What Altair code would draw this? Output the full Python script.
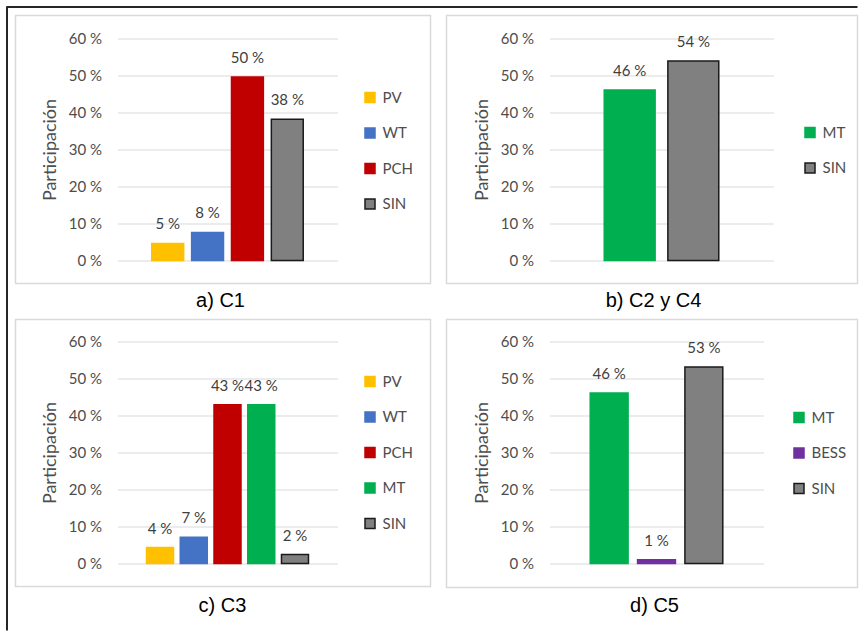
import altair as alt
import pandas as pd

# ---------------- data ----------------
COLORS = {"PV": "#FFC000", "WT": "#4472C4", "PCH": "#C00000",
          "MT": "#00B050", "BESS": "#7030A0", "SIN": "#808080"}
STROKES = {"PV": "#FFC000", "WT": "#4472C4", "PCH": "#C00000",
           "MT": "#00B050", "BESS": "#7030A0", "SIN": "#1a1a1a"}

series_a = ["PV", "WT", "PCH", "SIN"]
values_a = [4.6, 7.6, 49.6, 38.2]

series_b = ["MT", "SIN"]
values_b = [46.1, 53.9]

series_c = ["PV", "WT", "PCH", "MT", "SIN"]
values_c = [4.3, 7.1, 42.9, 42.9, 2.4]

series_d = ["MT", "BESS", "SIN"]
values_d = [46.1, 1.0, 53.1]

titles = ["a) C1", "b) C2 y C4", "c) C3", "d) C5"]
y_ticks = [0, 10, 20, 30, 40, 50, 60]
y_title = "Participación"

FONT = "Lato"
H = 222
one = pd.DataFrame({"k": [0]})


def panel(series, values, title, width, lx, ly, box, tpos, outer=False):
    df = pd.DataFrame({"serie": series, "valor": values})
    base = alt.Chart(df)
    legend = alt.Legend(title=None, orient="none", legendX=lx, legendY=ly,
                        symbolType="square", symbolSize=100, symbolStrokeWidth=1.5,
                        labelFont=FONT, labelFontSize=15, labelColor="#4d4d4d",
                        rowPadding=18.5, labelOffset=5, padding=0)
    x_enc = alt.X("serie:N", sort=series, axis=None,
                  scale=alt.Scale(domain=series, paddingInner=0.2, paddingOuter=0.86))
    y_enc = alt.Y("valor:Q", title=y_title,
                  scale=alt.Scale(domain=[0, 60], nice=False),
                  axis=alt.Axis(values=y_ticks, labelExpr="datum.value + ' %'",
                                grid=True, gridColor="#d9d9d9", gridWidth=1,
                                domain=False, ticks=False,
                                labelFont=FONT, labelFontSize=15, labelColor="#4d4d4d",
                                labelPadding=16,
                                titleFont=FONT, titleFontSize=18, titleFontWeight="normal",
                                titleColor="#4d4d4d", titleX=-67, titleY=H / 2,
                                titleAngle=270, titleAlign="center", titleBaseline="middle"))
    bars = base.mark_bar(strokeWidth=1.5).encode(
        x=x_enc,
        y=y_enc,
        color=alt.Color("serie:N", legend=legend,
                        scale=alt.Scale(domain=series, range=[COLORS[s] for s in series])),
        stroke=alt.Stroke("serie:N", legend=legend,
                          scale=alt.Scale(domain=series, range=[STROKES[s] for s in series])),
    )
    labels = base.transform_calculate(
        label="format(datum.valor, '.0f') + ' %'"
    ).mark_text(baseline="alphabetic", dy=-14, fontSize=15, font=FONT,
                color="#404040").encode(x=x_enc, y=y_enc, text="label:N")
    bx1, bx2, by1, by2 = box
    frame = alt.Chart(one).mark_rect(fillOpacity=0, stroke="#d9d9d9", strokeWidth=1.5).encode(
        x=alt.value(bx1), x2=alt.value(bx2), y=alt.value(by1), y2=alt.value(by2))
    ttl = alt.Chart(one).mark_text(font="Liberation Sans", fontSize=20, color="#000000",
                                   align="center", baseline="middle").encode(
        x=alt.value(tpos[0]), y=alt.value(tpos[1]), text=alt.value(title))
    layers = [frame, bars, labels, ttl]
    if outer:
        top = alt.Chart(one).mark_rule(color="#262626", strokeWidth=2).encode(
            x=alt.value(-111), x2=alt.value(740), y=alt.value(-31.5))
        left = alt.Chart(one).mark_rule(color="#262626", strokeWidth=2).encode(
            x=alt.value(-110.5), y=alt.value(-32), y2=alt.value(592))
        layers += [top, left]
    return alt.layer(*layers).properties(width=width, height=H)


pa = panel(series_a, values_a, titles[0], 220, 245, 51.5, (-102, 313, -23, 245), (103, 262), outer=True)
pb = panel(series_b, values_b, titles[1], 224, 253, 86.5, (-103, 308, -23, 245), (104, 262))
pc = panel(series_c, values_c, titles[2], 220, 245, 32.5, (-102, 313, -22, 245), (105, 264))
pd_ = panel(series_d, values_d, titles[3], 214, 242, 68.5, (-103, 308, -22, 246), (105, 264))

chart = alt.concat(pa, pb, pc, pd_, columns=2, spacing={"row": 81, "column": 212},
                   bounds="flush").resolve_scale(
    color="independent", stroke="independent", x="independent", y="independent"
).properties(
    padding={"left": 5.5, "top": 5.5, "right": 0, "bottom": 0},
    background="white",
).configure_view(strokeWidth=0)

chart.save("out.html", embed_options={"renderer": "svg", "actions": False})
